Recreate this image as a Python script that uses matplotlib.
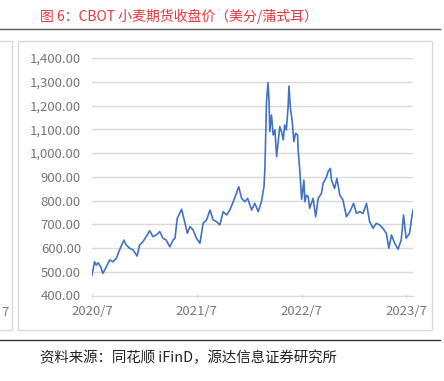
import matplotlib.pyplot as plt
import matplotlib.ticker as mticker
from matplotlib.patches import Rectangle
from matplotlib.lines import Line2D
import numpy as np

plt.rcParams['font.family'] = ['Noto Sans CJK SC', 'DejaVu Sans']

# CBOT wheat close, US cents / bushel
dates = [
    "2020-07-01", "2020-07-10", "2020-07-16", "2020-07-22", "2020-07-31", "2020-08-08",
    "2020-08-20", "2020-09-01", "2020-09-12", "2020-09-24", "2020-10-05", "2020-10-20",
    "2020-10-28", "2020-11-09", "2020-11-21", "2020-12-05", "2020-12-14", "2020-12-25",
    "2021-01-06", "2021-01-18", "2021-01-29", "2021-02-10", "2021-02-22", "2021-03-05",
    "2021-03-16", "2021-03-29", "2021-04-09", "2021-04-16", "2021-04-24", "2021-05-09",
    "2021-05-21", "2021-05-29", "2021-06-07", "2021-06-18", "2021-06-30", "2021-07-12",
    "2021-07-23", "2021-08-04", "2021-08-16", "2021-08-27", "2021-09-08", "2021-09-19",
    "2021-10-01", "2021-10-13", "2021-10-24", "2021-11-05", "2021-11-16", "2021-11-24",
    "2021-12-04", "2021-12-15", "2021-12-25", "2022-01-08", "2022-01-19", "2022-01-31",
    "2022-02-11", "2022-02-20", "2022-02-23", "2022-03-01", "2022-03-06", "2022-03-10",
    "2022-03-12", "2022-03-18", "2022-03-24", "2022-03-30", "2022-04-05", "2022-04-10",
    "2022-04-16", "2022-04-22", "2022-04-28", "2022-05-03", "2022-05-09", "2022-05-15",
    "2022-05-18", "2022-05-23", "2022-05-29", "2022-06-04", "2022-06-10", "2022-06-17",
    "2022-06-19", "2022-06-25", "2022-07-01", "2022-07-09", "2022-07-12", "2022-07-18",
    "2022-07-24", "2022-07-29", "2022-08-10", "2022-08-19", "2022-08-28", "2022-09-08",
    "2022-09-14", "2022-09-26", "2022-10-01", "2022-10-09", "2022-10-13", "2022-10-24",
    "2022-11-01", "2022-11-11", "2022-11-22", "2022-12-04", "2022-12-16", "2022-12-29",
    "2023-01-08", "2023-01-19", "2023-01-31", "2023-02-12", "2023-02-23", "2023-03-07",
    "2023-03-18", "2023-03-30", "2023-04-10", "2023-04-22", "2023-05-01", "2023-05-10",
    "2023-05-21", "2023-06-02", "2023-06-13", "2023-06-21", "2023-06-30", "2023-07-12",
    "2023-07-20", "2023-07-24",
]
close = [
    486, 542, 528, 538, 521, 493,
    521, 550, 542, 557, 592, 633,
    613, 599, 592, 566, 613, 626,
    648, 673, 648, 655, 669, 641,
    634, 605, 633, 641, 725, 763,
    704, 662, 690, 676, 641, 620,
    704, 718, 760, 718, 711, 697,
    753, 739, 760, 795, 830, 858,
    809, 795, 809, 760, 788, 753,
    795, 858, 928, 1223, 1296, 1210,
    1090, 1160, 1076, 1097, 985, 1042,
    1111, 1090, 1055, 1118, 1097, 1195,
    1282, 1188, 1139, 1048, 1083, 1076,
    1013, 921, 805, 886, 795, 823,
    816, 767, 809, 732, 809, 830,
    872, 900, 921, 935, 886, 851,
    893, 823, 802, 732, 753, 788,
    746, 753, 746, 788, 711, 683,
    704, 697, 683, 662, 599, 655,
    620, 595, 634, 739, 641, 662,
    732, 760,
]
x_ticks = ["2020-07-01", "2021-07-01", "2022-07-01", "2023-07-01"]
x_tick_labels = ["2020/7", "2021/7", "2022/7", "2023/7"]

W, H = 444, 381
fig = plt.figure(figsize=(W / 100, H / 100), dpi=100)


def fx(px):
    return px / W


def fy(py):
    return 1 - py / H


# frames and rules
fig.add_artist(Line2D([0, fx(440)], [fy(29), fy(29)], color='#5a5a5a', lw=1.0))
fig.add_artist(Line2D([0, fx(440)], [fy(340), fy(340)], color='#333333', lw=1.0))
fig.add_artist(Rectangle((fx(17.5), fy(329.5)), fx(432) - fx(17.5), fy(40.5) - fy(329.5),
                         fill=False, ec='#d9d9d9', lw=1.0))
fig.add_artist(Rectangle((fx(-5), fy(329.5)), fx(11.5) - fx(-5), fy(40.5) - fy(329.5),
                         fill=False, ec='#d9d9d9', lw=1.0))
# tail of the neighbouring chart's last tick label
fig.text(fx(8.5), fy(312), "7", ha='right', va='center', fontsize=9.5, color='#808080')

fig.text(fx(40), fy(16), "图 6：CBOT 小麦期货收盘价（美分/蒲式耳）", ha='left', va='center',
         fontsize=10, color='#e8383d')
fig.text(fx(40), fy(358), "资料来源：同花顺 iFinD，源达信息证券研究所", ha='left', va='center',
         fontsize=10.4, color='#222222')

ax = fig.add_axes([fx(92), fy(295.5), fx(413) - fx(92), fy(58) - fy(295.5)])
ax.plot(np.array(dates, dtype='datetime64[D]'), close, color='#4472c4', lw=1.2)

ax.set_ylim(400, 1400)
ax.set_yticks(np.arange(400, 1401, 100))
ax.yaxis.set_major_formatter(mticker.StrMethodFormatter('{x:,.2f}'))
ax.set_xlim(np.datetime64("2020-07-01"), np.datetime64("2023-07-24"))
ax.set_xticks(np.array(x_ticks, dtype='datetime64[D]'))
ax.set_xticklabels(x_tick_labels)

ax.grid(axis='y', color='#d9d9d9', lw=1.0)
ax.set_axisbelow(True)
for s in ['top', 'right', 'left']:
    ax.spines[s].set_visible(False)
ax.spines['bottom'].set_color('#d9d9d9')
ax.tick_params(axis='y', length=0, pad=8, labelsize=9.5, labelcolor='#777777')
ax.tick_params(axis='x', length=3, direction='inout', color='#d9d9d9', pad=5,
               labelsize=9.5, labelcolor='#777777')

fig.savefig('out.png', dpi=100)
